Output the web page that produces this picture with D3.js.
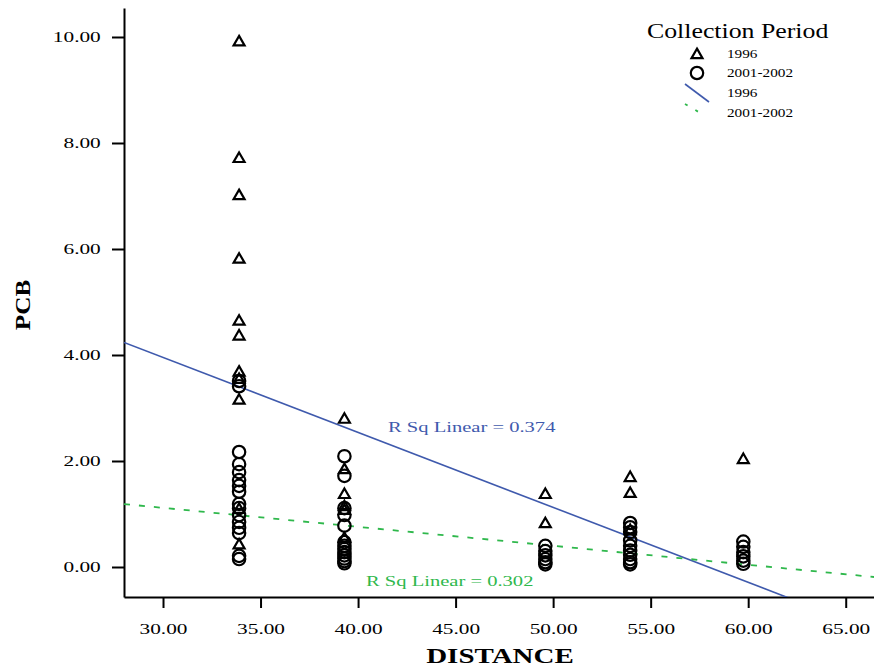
<!DOCTYPE html>
<html>
<head>
<meta charset="utf-8">
<script src="https://cdn.jsdelivr.net/npm/d3@7"></script>
<style>
body { margin:0; background:#fff; }
svg { display:block; }
</style>
</head>
<body>
<svg id="chart" width="874" height="668"></svg>
<script>
// ---- Data ----
const xTicks = [30, 35, 40, 45, 50, 55, 60, 65];
const yTicks = [0, 2, 4, 6, 8, 10];
const legendLabels = ["1996", "2001-2002", "1996", "2001-2002"];

// 1996 samples (triangles): [distance, PCB]
const dist1996 = [33.9,33.9,33.9,33.9,33.9,33.9,33.9,33.9,33.9,33.9,33.9, 39.3,39.3,39.3,39.3,39.3,39.3, 49.6,49.6, 53.95,53.95,53.95, 59.75];
const pcb1996  = [9.92,7.72,7.02,5.82,4.65,4.37,3.69,3.55,3.16,0.43,1.10, 2.80,1.85,1.38,1.15,1.08,0.55, 1.38,0.83, 1.70,1.40,0.70, 2.04];

// 2001-2002 samples (circles)
const dist2002 = [33.9,33.9,33.9,33.9,33.9,33.9,33.9,33.9,33.9,33.9,33.9,33.9,33.9,33.9,33.9,33.9,
                  39.3,39.3,39.3,39.3,39.3,39.3,39.3,39.3,39.3,39.3,39.3,39.3,39.3,
                  49.6,49.6,49.6,49.6,49.6,49.6,
                  53.95,53.95,53.95,53.95,53.95,53.95,53.95,53.95,53.95,53.95,
                  59.75,59.75,59.75,59.75,59.75,59.75];
const pcb2002  = [3.51,3.41,2.17,1.94,1.79,1.64,1.53,1.42,1.19,1.11,0.98,0.85,0.74,0.64,0.21,0.15,
                  2.09,1.72,1.11,0.98,0.78,0.47,0.40,0.34,0.28,0.22,0.16,0.11,0.07,
                  0.40,0.30,0.22,0.15,0.09,0.05,
                  0.83,0.75,0.66,0.50,0.40,0.31,0.23,0.15,0.09,0.05,
                  0.48,0.38,0.28,0.20,0.12,0.06];

// Linear fits: [intercept, slope]
const fit1996 = [8.20, -0.1415];
const fit2002 = [2.19, -0.0358];
const rsq = ["R Sq Linear = 0.374", "R Sq Linear = 0.302"];

// ---- Drawing ----
(function(){
const svg = d3.select("#chart");
const serif = "'Liberation Serif', 'DejaVu Serif', serif";
const blue = "#3f5aad", green = "#2fb84c";

// stretch text horizontally (reference uses a wide serif rendering)
function stretch(sel, f) {
  sel.each(function(){
    const w = this.getComputedTextLength();
    d3.select(this).attr("textLength", w*f).attr("lengthAdjust","spacingAndGlyphs");
  });
}

const mL = 124, mR = 874, mT = 8, mB = 597;
const x = d3.scaleLinear().domain([28.0, 66.45]).range([mL, mR]);
const y = d3.scaleLinear().domain([-0.566, 10.547]).range([mB, mT]);

svg.append("defs").append("clipPath").attr("id","clip")
  .append("rect").attr("x", mL).attr("y", mT).attr("width", mR-mL).attr("height", mB-mT);

// Axes
const xAxis = d3.axisBottom(x).tickValues(xTicks).tickFormat(d3.format(".2f")).tickSize(11).tickSizeOuter(0);
const yAxis = d3.axisLeft(y).tickValues(yTicks).tickFormat(d3.format(".2f")).tickSize(12).tickSizeOuter(0);

const gx = svg.append("g").attr("transform", `translate(0,${mB})`).call(xAxis);
const gy = svg.append("g").attr("transform", `translate(${mL},0)`).call(yAxis);
[gx, gy].forEach(g => {
  g.select(".domain").attr("stroke","#000").attr("stroke-width",2);
  g.selectAll(".tick line").attr("stroke","#000").attr("stroke-width",2);
  g.selectAll(".tick text").attr("font-family", serif).attr("font-size", 15).attr("fill","#000");
  stretch(g.selectAll(".tick text"), 1.42);
});
gx.selectAll(".tick text").attr("dy", "1.55em");
gy.selectAll(".tick text").attr("dx", "-0.55em");

// Axis titles
const xt = svg.append("text").attr("x", 500).attr("y", 663).attr("text-anchor","middle")
  .attr("font-family", serif).attr("font-weight","bold").attr("font-size", 21).text("DISTANCE");
stretch(xt, 1.38);
const yt = svg.append("text").attr("transform", "translate(30,305) rotate(-90)").attr("text-anchor","middle")
  .attr("font-family", serif).attr("font-weight","bold").attr("font-size", 21).text("PCB");
stretch(yt, 1.2);

const plot = svg.append("g").attr("clip-path","url(#clip)");

// Regression lines
const xd = x.domain();
plot.append("line")
  .attr("x1", x(xd[0])).attr("y1", y(fit1996[0] + fit1996[1]*xd[0]))
  .attr("x2", x(xd[1])).attr("y2", y(fit1996[0] + fit1996[1]*xd[1]))
  .attr("stroke", blue).attr("stroke-width", 1.6);
plot.append("line")
  .attr("x1", x(xd[0])).attr("y1", y(fit2002[0] + fit2002[1]*xd[0]))
  .attr("x2", x(xd[1])).attr("y2", y(fit2002[0] + fit2002[1]*xd[1]))
  .attr("stroke", green).attr("stroke-width", 1.8).attr("stroke-dasharray","6,9");

// Points
const tri = d3.symbol().type(d3.symbolTriangle).size(52);
plot.selectAll("path.t").data(dist1996.map((d,i)=>[d,pcb1996[i]])).join("path")
  .attr("class","t").attr("d", tri)
  .attr("transform", d => `translate(${x(d[0])},${y(d[1])+1})`)
  .attr("fill","none").attr("stroke","#000").attr("stroke-width",2.2);
plot.selectAll("circle.c").data(dist2002.map((d,i)=>[d,pcb2002[i]])).join("circle")
  .attr("class","c").attr("cx", d => x(d[0])).attr("cy", d => y(d[1])).attr("r", 6.2)
  .attr("fill","none").attr("stroke","#000").attr("stroke-width",2.2);

// R-square labels
const r1 = svg.append("text").attr("x", 388).attr("y", 432).attr("font-family", serif).attr("font-size", 15)
  .attr("fill", blue).text(rsq[0]);
stretch(r1, 1.37);
const r2 = svg.append("text").attr("x", 366).attr("y", 586).attr("font-family", serif).attr("font-size", 15)
  .attr("fill", green).text(rsq[1]);
stretch(r2, 1.37);

// Legend
const lg = svg.append("g");
const lt = lg.append("text").attr("x", 647).attr("y", 38).attr("font-family", serif).attr("font-size", 20).text("Collection Period");
stretch(lt, 1.29);
lg.append("path").attr("d", tri).attr("transform","translate(697,55)")
  .attr("fill","none").attr("stroke","#000").attr("stroke-width",2.2);
lg.append("circle").attr("cx", 697).attr("cy", 73).attr("r", 6.2)
  .attr("fill","none").attr("stroke","#000").attr("stroke-width",2.2);
lg.append("line").attr("x1",685).attr("y1",84).attr("x2",709).attr("y2",102)
  .attr("stroke", blue).attr("stroke-width",1.6);
lg.append("line").attr("x1",685).attr("y1",104).attr("x2",702).attr("y2",114)
  .attr("stroke", green).attr("stroke-width",1.8).attr("stroke-dasharray","3,9");
const ly = [58, 77, 97, 117];
legendLabels.forEach((t,i) => {
  const tx = lg.append("text").attr("x", 727).attr("y", ly[i]).attr("font-family", serif).attr("font-size", 12).text(t);
  stretch(tx, 1.27);
});
})();
</script>
</body>
</html>
